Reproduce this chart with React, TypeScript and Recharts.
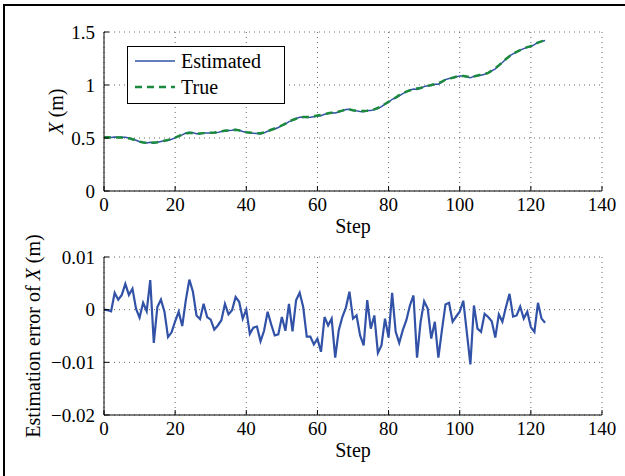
import { LineChart, Line, XAxis, YAxis, CartesianGrid, Legend, Label } from "recharts";

// true X position per step (m)
const trueX = [
  0.505, 0.506, 0.505, 0.506, 0.505, 0.504, 0.502, 0.497, 0.488, 0.478,
  0.466, 0.458, 0.454, 0.455, 0.458, 0.46, 0.466, 0.474, 0.482, 0.492,
  0.503, 0.518, 0.533, 0.545, 0.548, 0.546, 0.541, 0.542, 0.546, 0.548,
  0.549, 0.551, 0.556, 0.563, 0.569, 0.571, 0.574, 0.578, 0.572, 0.563,
  0.555, 0.551, 0.548, 0.546, 0.545, 0.552, 0.564, 0.578, 0.59, 0.604,
  0.618, 0.636, 0.654, 0.67, 0.682, 0.692, 0.697, 0.698, 0.7, 0.706,
  0.712, 0.718, 0.725, 0.733, 0.739, 0.745, 0.75, 0.758, 0.768, 0.768,
  0.762, 0.757, 0.755, 0.754, 0.757, 0.762, 0.77, 0.785, 0.802, 0.821,
  0.842, 0.862, 0.882, 0.904, 0.923, 0.937, 0.95, 0.96, 0.966, 0.972,
  0.983, 0.992, 1.0, 1.01, 1.017, 1.032, 1.05, 1.06, 1.068, 1.078,
  1.085, 1.084, 1.08, 1.078, 1.081, 1.09, 1.097, 1.103, 1.115, 1.135,
  1.158, 1.185, 1.215, 1.245, 1.272, 1.295, 1.313, 1.328, 1.345, 1.357,
  1.366, 1.385, 1.4, 1.412, 1.422,
];

// estimation error of X per step (m)
const errX = [
  0, -0.0001, -0.0003, 0.0032, 0.0019, 0.0028, 0.0049, 0.0028, 0.004, 0.0002,
  -0.0015, 0.0013, -0.0003, 0.0056, -0.0063, 0.0005, 0.0019, -0.0004, -0.0052, -0.0043,
  -0.0022, -0.0004, -0.0031, 0.0018, 0.0057, 0.0034, -0.0011, -0.0018, 0.0011, -0.0014,
  -0.0019, -0.0038, -0.003, -0.002, 0.0011, -0.0009, -0.0001, 0.0024, 0.0015, -0.0017,
  0, -0.0046, -0.0034, -0.0032, -0.006, -0.004, -0.0004, -0.0028, -0.0049, -0.0047,
  -0.0014, -0.004, 0.0011, -0.0041, 0.0018, 0.0032, 0.0005, -0.0051, -0.0051, -0.0066,
  -0.0055, -0.008, -0.0014, -0.003, -0.0017, -0.0091, -0.0039, -0.0014, 0.0004, 0.0034,
  -0.0017, -0.0011, -0.0049, -0.0068, 0.0018, -0.0036, -0.0011, -0.0082, -0.0068, -0.0017,
  -0.0053, 0.0032, -0.0042, -0.0063, -0.0039, -0.002, 0.0008, 0.0027, -0.0091, -0.0023,
  0.0016, 0.0002, -0.0055, -0.0023, -0.0091, -0.0039, 0.001, 0.0013, -0.0023, -0.0013,
  -0.0004, 0.0017, -0.0043, -0.0104, 0.0008, -0.0036, -0.0042, -0.0008, -0.0014, -0.0022,
  -0.0053, -0.0009, -0.0023, 0.0005, 0.003, -0.0013, -0.0011, 0.0006, -0.0017, -0.0004,
  -0.0033, -0.0042, 0.0013, -0.0017, -0.0025,
];

const stepTicks = [0, 20, 40, 60, 80, 100, 120, 140];
const posTicks = [0, 0.5, 1, 1.5];
const errTicks = [-0.02, -0.01, 0, 0.01];

const BLUE = "#3152a6";
const GREEN = "#1b8a3c";
const FONT = "'Liberation Serif', 'Times New Roman', serif";

const series = [
  { key: "estimated", name: "Estimated", color: BLUE, width: 1.5, dash: undefined as string | undefined },
  { key: "actual", name: "True", color: GREEN, width: 2.5, dash: "7 5" },
];

// estimated = true + error
const posData = trueX.map((t, i) => ({ step: i, estimated: t + errX[i], actual: t }));
const errData = errX.map((e, i) => ({ step: i, error: e }));

const tickStyle = { fill: "#000", fontSize: 19, fontFamily: FONT };
const fmtSigned = (v: number) => (v < 0 ? "\u2212" + Math.abs(v) : String(v));

const yTitle = (cx: number, before: string) => (props: any) => {
  const vb = props.viewBox || {};
  const cy = (vb.y ?? 0) + (vb.height ?? 0) / 2;
  return (
    <text
      x={cx}
      y={cy}
      transform={`rotate(-90 ${cx} ${cy})`}
      textAnchor="middle"
      dominantBaseline="central"
      fontFamily={FONT}
      fontSize={20}
      fill="#000"
    >
      {before}
      <tspan fontStyle="italic">X</tspan> (m)
    </text>
  );
};

const renderLegend = () => (
  <div
    style={{
      boxSizing: "border-box",
      width: 158,
      height: 58,
      border: "1.5px solid #000",
      background: "#fff",
      padding: "1px 0 0 7px",
      fontFamily: FONT,
      fontSize: 20,
      color: "#000",
    }}
  >
    {series.map((s) => (
      <div key={s.key} style={{ display: "flex", alignItems: "center", height: 26 }}>
        <svg width={40} height={6} style={{ marginRight: 6 }}>
          <line x1={0} y1={3} x2={40} y2={3} stroke={s.color} strokeWidth={s.width} strokeDasharray={s.dash} />
        </svg>
        <span style={{ lineHeight: "26px" }}>{s.name}</span>
      </div>
    ))}
  </div>
);

const gridProps = { stroke: "#666", strokeDasharray: "1 4" };

export default function App() {
  return (
    <div style={{ position: "absolute", left: 0, top: 0, width: 625, height: 476, background: "#fff", overflow: "hidden" }}>
      <div
        style={{
          position: "absolute",
          left: 3,
          top: 4,
          right: -4,
          bottom: -4,
          borderLeft: "2px solid #000",
          borderTop: "2px solid #000",
        }}
      />
      <div style={{ position: "absolute", left: 0, top: 0 }}>
        <LineChart width={625} height={240} data={posData} margin={{ top: 32, right: 23, bottom: 4, left: 0 }}>
          <CartesianGrid {...gridProps} />
          <XAxis
            dataKey="step"
            type="number"
            domain={[0, 140]}
            ticks={stepTicks}
            height={45}
            tickSize={-5}
            tickMargin={12}
            tick={tickStyle}
            stroke="#000"
          >
            <Label value="Step" position="insideBottom" offset={3} fill="#000" fontSize={20} fontFamily={FONT} />
          </XAxis>
          <XAxis xAxisId="top" orientation="top" type="number" domain={[0, 140]} ticks={stepTicks} height={0} tickSize={-5} tick={false} stroke="#000" />
          <YAxis
            type="number"
            domain={[0, 1.5]}
            ticks={posTicks}
            width={104}
            tickSize={-5}
            tickMargin={14}
            tick={tickStyle}
            stroke="#000"
          >
            <Label content={yTitle(55.5, "")} />
          </YAxis>
          <YAxis yAxisId="right" orientation="right" type="number" domain={[0, 1.5]} ticks={posTicks} width={0} tickSize={-5} tick={false} stroke="#000" />
          <Legend
            layout="vertical"
            align="center"
            verticalAlign="middle"
            content={renderLegend}
            wrapperStyle={{ left: 127, top: 46, width: 158, height: 58 }}
          />
          {series.map((s) => (
            <Line
              key={s.key}
              type="linear"
              dataKey={s.key}
              name={s.name}
              stroke={s.color}
              strokeWidth={s.width}
              strokeDasharray={s.dash}
              dot={false}
              activeDot={false}
              isAnimationActive={false}
            />
          ))}
        </LineChart>
      </div>
      <div style={{ position: "absolute", left: 0, top: 230 }}>
        <LineChart width={625} height={246} data={errData} margin={{ top: 27, right: 23, bottom: 11, left: 0 }}>
          <CartesianGrid {...gridProps} />
          <XAxis
            dataKey="step"
            type="number"
            domain={[0, 140]}
            ticks={stepTicks}
            height={50}
            tickSize={-5}
            tickMargin={12}
            tick={tickStyle}
            stroke="#000"
          >
            <Label value="Step" position="insideBottom" offset={8} fill="#000" fontSize={20} fontFamily={FONT} />
          </XAxis>
          <XAxis xAxisId="top" orientation="top" type="number" domain={[0, 140]} ticks={stepTicks} height={0} tickSize={-5} tick={false} stroke="#000" />
          <YAxis
            type="number"
            domain={[-0.02, 0.01]}
            ticks={errTicks}
            width={104}
            tickSize={-5}
            tickMargin={14}
            tick={tickStyle}
            tickFormatter={fmtSigned}
            stroke="#000"
          >
            <Label content={yTitle(33, "Estimation error of ")} />
          </YAxis>
          <YAxis yAxisId="right" orientation="right" type="number" domain={[-0.02, 0.01]} ticks={errTicks} width={0} tickSize={-5} tick={false} stroke="#000" />
          <Line
            type="linear"
            dataKey="error"
            stroke={BLUE}
            strokeWidth={2.2}
            dot={false}
            activeDot={false}
            isAnimationActive={false}
          />
        </LineChart>
      </div>
    </div>
  );
}
